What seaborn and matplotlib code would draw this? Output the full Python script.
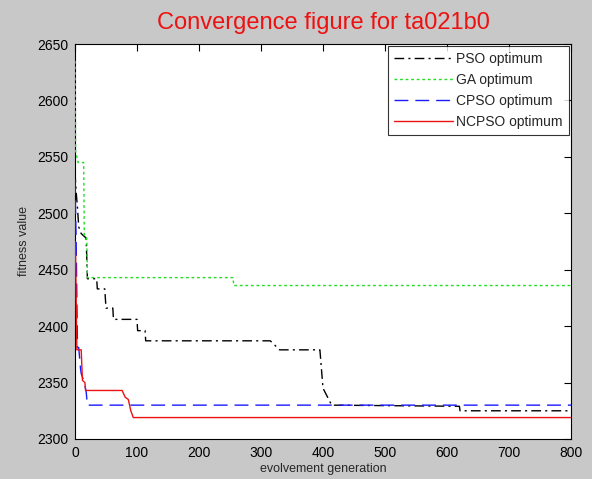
import matplotlib
matplotlib.use("Agg")
import matplotlib.pyplot as plt
import seaborn as sns
import pandas as pd

# Data (step vertices)
pso_x = [0, 2, 4, 6, 10, 18, 20, 35, 36, 48, 50, 61, 62, 100, 101, 113, 114, 315, 330, 395, 400, 414, 620, 621, 800]
pso_y = [2536, 2518, 2505, 2488, 2482, 2478, 2442, 2442, 2433, 2433, 2416, 2416, 2406, 2406, 2396, 2396, 2387, 2387, 2379, 2379, 2345, 2330, 2329, 2325, 2325]

ga_x = [0, 1, 5, 14, 15, 19, 20, 255, 256, 800]
ga_y = [2635, 2555, 2545, 2545, 2480, 2478, 2443, 2443, 2436, 2436]

cpso_x = [0, 1, 2, 4, 6, 9, 10, 15, 18, 20, 800]
cpso_y = [2530, 2500, 2470, 2381, 2381, 2362, 2358, 2350, 2342, 2330, 2330]

ncpso_x = [0, 1, 2, 3, 10, 12, 16, 17, 76, 81, 86, 90, 94, 800]
ncpso_y = [2475, 2462, 2420, 2379, 2379, 2352, 2350, 2343, 2343, 2337, 2335, 2325, 2319, 2319]

labels = ["PSO optimum", "GA optimum", "CPSO optimum", "NCPSO optimum"]
colors = ["black", "#22dd22", "#1a1aff", "#ee1111"]
styles = [(0, (7, 3, 1.5, 3)), (0, (2, 2)), (0, (10, 5)), "-"]

xticks = [0, 100, 200, 300, 400, 500, 600, 700, 800]
yticks = [2300, 2350, 2400, 2450, 2500, 2550, 2600, 2650]

sns.set_style("white")
plt.rcParams["font.family"] = ["Liberation Sans", "DejaVu Sans"]

fig = plt.figure(figsize=(5.92, 4.79), dpi=100, facecolor="#c8c8c8")
ax = fig.add_axes([75/592, 1-439/479, (571-75)/592, (439-44)/479])
ax.set_facecolor("white")

series = [(pso_x, pso_y), (ga_x, ga_y), (cpso_x, cpso_y), (ncpso_x, ncpso_y)]
for (xs, ys), lab, col, ls in zip(series, labels, colors, styles):
    df = pd.DataFrame({"gen": xs, "fit": ys})
    sns.lineplot(data=df, x="gen", y="fit", ax=ax, color=col, linestyle=ls,
                 linewidth=1.0, label=lab, sort=False, estimator=None, zorder=3)

ax.set_xlim(0, 800)
ax.set_ylim(2300, 2650)
ax.set_xticks(xticks)
ax.set_yticks(yticks)
ax.tick_params(direction="in", length=5, width=0.8, top=True, right=True,
               labelsize=10, colors="black", pad=5)
for s in ax.spines.values():
    s.set_visible(True)
    s.set_color("black")
    s.set_linewidth(0.8)

ax.set_xlabel("evolvement generation", fontsize=9, labelpad=2)
ax.set_ylabel("fitness value", fontsize=9, labelpad=5)
ax.set_title("Convergence figure for ta021b0", color="#ee1111", fontsize=17, pad=11)

leg = ax.legend(loc="upper right", fontsize=10, handlelength=4.2, frameon=True,
                fancybox=False, borderaxespad=0.15, labelspacing=0.5,
                borderpad=0.45, handletextpad=0.25)
leg.get_frame().set_edgecolor("black")
leg.get_frame().set_linewidth(0.8)
leg.set_zorder(5)

fig.savefig("out.png", dpi=100, facecolor=fig.get_facecolor())
